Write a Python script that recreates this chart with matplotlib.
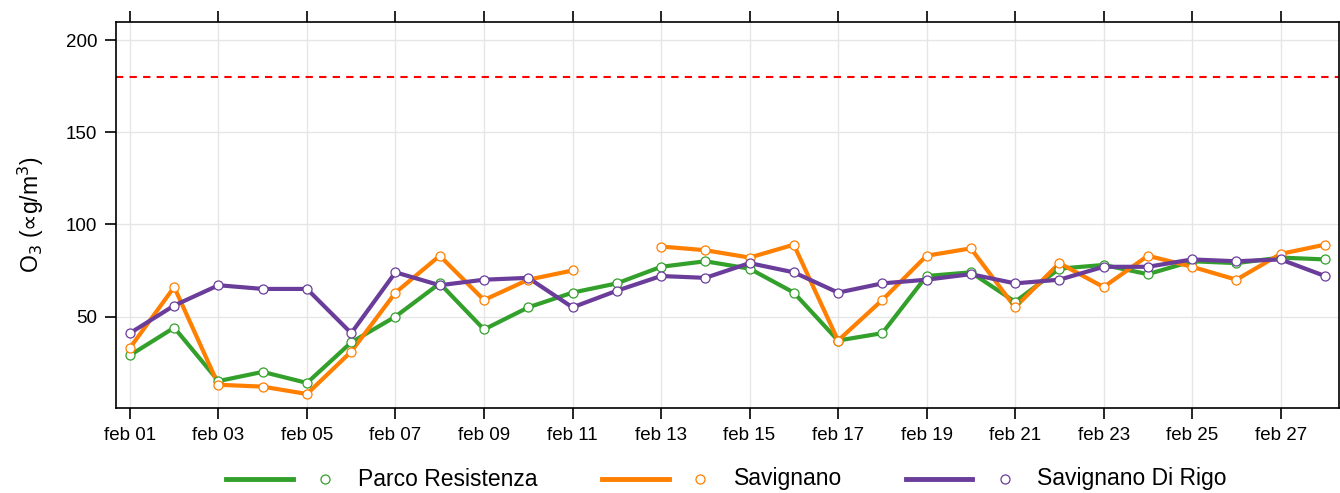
import numpy as np
import matplotlib.pyplot as plt
from matplotlib.lines import Line2D

plt.rcParams['font.family'] = ['Liberation Sans', 'DejaVu Sans']

# days of february
days = np.arange(1, 29)
tick_days = days[::2]
tick_labels = ['feb %02d' % d for d in tick_days]

# ozone daily values (ug/m3)
parco_resistenza = [29, 44, 15, 20, 14, 36, 50, 68, 43, 55, 63, 68, 77, 80,
                    76, 63, 37, 41, 72, 74, 58, 76, 78, 73, 80, 79, 82, 81]
savignano = [33, 66, 13, 12, 8, 31, 63, 83, 59, 70, 75, np.nan, 88, 86,
             82, 89, 37, 59, 83, 87, 55, 79, 66, 83, 77, 70, 84, 89]
savignano_di_rigo = [41, 56, 67, 65, 65, 41, 74, 67, 70, 71, 55, 64, 72, 71,
                     79, 74, 63, 68, 70, 73, 68, 70, 77, 77, 81, 80, 81, 72]
limit = 180

names = ['Parco Resistenza', 'Savignano', 'Savignano Di Rigo']
colors = ['#33a02c', '#ff7f00', '#6a3d9a']
series = [parco_resistenza, savignano, savignano_di_rigo]

fig = plt.figure(figsize=(13.4, 4.93), dpi=100)
ax = fig.add_axes([0.0869, 0.1724, 0.9124, 0.783])

ax.grid(True, color='#e6e6e6', lw=1)
ax.set_axisbelow(True)

ax.axhline(limit, color='#ff0000', lw=1.5, ls=(0, (3.5, 3)), zorder=2)

for vals, col in zip(series, colors):
    ax.plot(days, vals, color=col, lw=3, zorder=3)
for vals, col in zip(series, colors):
    ax.plot(days, vals, ls='none', marker='o', ms=6.5, mfc='white',
            mec=col, mew=0.9, zorder=4)

ax.set_xlim(0.695, 28.32)
ax.set_ylim(0.4, 209.8)
ax.set_xticks(tick_days)
ax.set_xticklabels(tick_labels)
ax.set_yticks([50, 100, 150, 200])
ax.tick_params(axis='x', top=True, direction='out', length=8, width=1.2,
               labelsize=13.5, pad=6)
ax.tick_params(axis='y', direction='out', length=8, width=1.2,
               labelsize=13.5, pad=6)
for s in ax.spines.values():
    s.set_linewidth(1.2)

ax.set_ylabel('O$_3$ ($\u221d$g/m$^3$)', fontsize=16.5, labelpad=14)

# legend drawn along the bottom: line, open circle, label
leg_y = 1 - 479 / 493
line_x = [(226, 293), (602, 669), (906, 972)]
circ_x = [325, 700, 1005]
text_x = [358, 734, 1037]
for i in range(3):
    x0, x1 = line_x[i]
    fig.add_artist(Line2D([x0 / 1340, x1 / 1340], [leg_y, leg_y],
                          transform=fig.transFigure, color=colors[i], lw=3.5))
    fig.add_artist(Line2D([circ_x[i] / 1340], [leg_y], transform=fig.transFigure,
                          ls='none', marker='o', ms=6.5, mfc='white',
                          mec=colors[i], mew=0.9))
    fig.text(text_x[i] / 1340, leg_y, names[i], fontsize=16.5,
             va='center', ha='left')

fig.savefig('out.png', dpi=100)
